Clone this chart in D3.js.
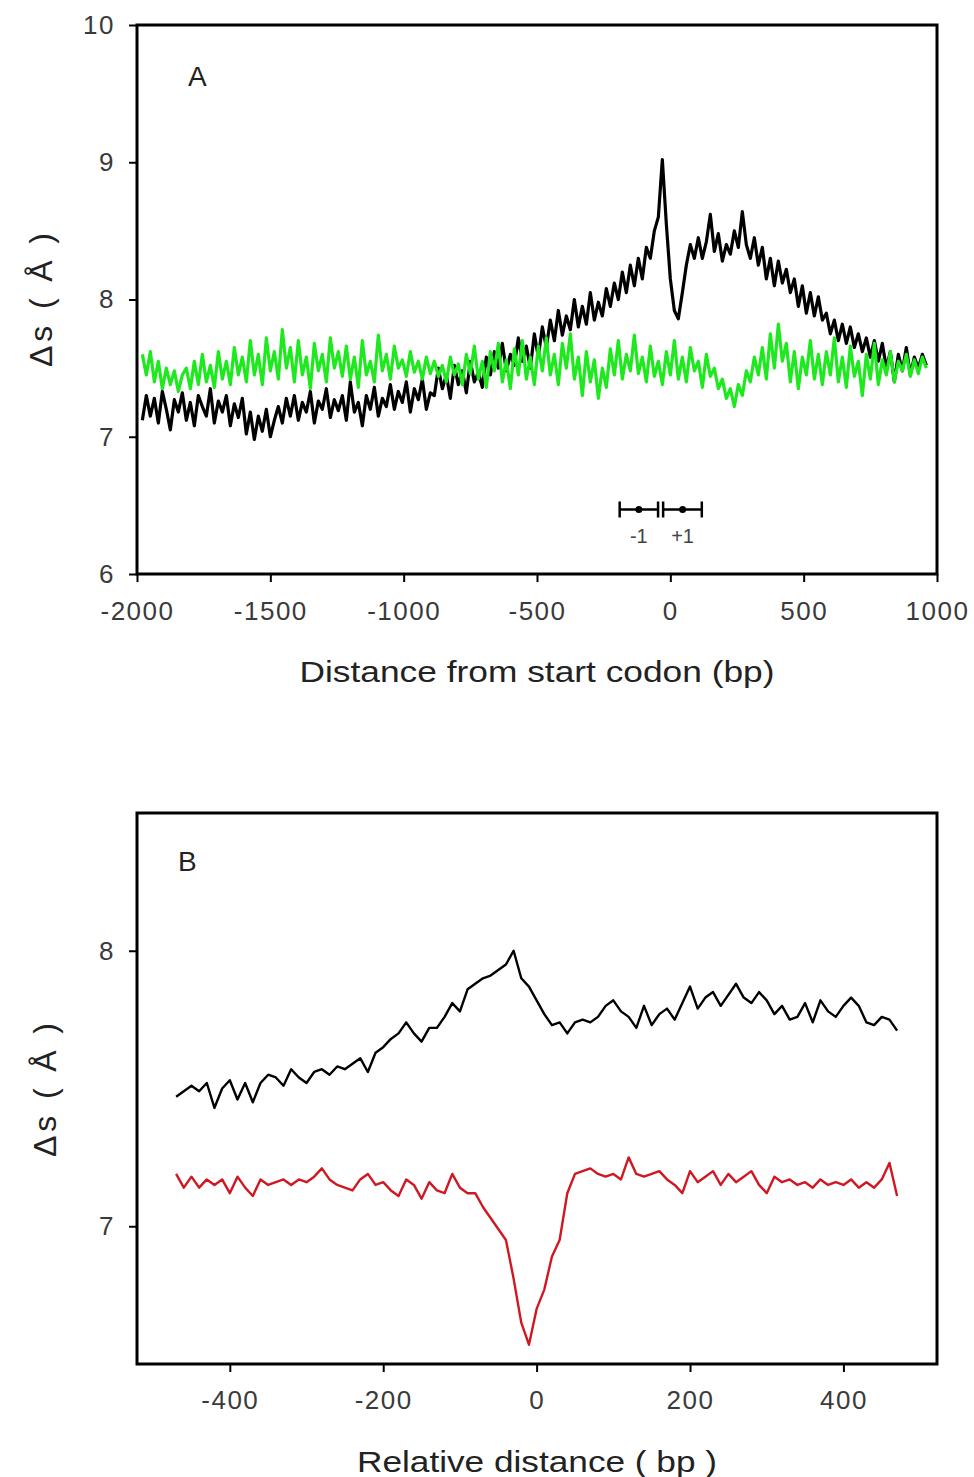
<!DOCTYPE html>
<html>
<head>
<meta charset="utf-8">
<script src="https://cdn.jsdelivr.net/npm/d3@7"></script>
<style>
  body { margin: 0; background: #fff; }
  svg text { font-family: Arial, "Liberation Sans", sans-serif; }
</style>
</head>
<body>
<div id="chart"></div>
<script>
// ---- Panel A: distance from start codon, one value every 15 bp ----
const posA = d3.range(-1980, 961, 15);
const blackA = [
  7.12, 7.30, 7.15, 7.28, 7.10, 7.33, 7.20, 7.05, 7.27, 7.18, 7.32, 7.12, 7.25, 7.08, 7.30, 7.22, 7.15, 7.35, 7.10, 7.26, 7.18, 7.30, 7.08, 7.24, 7.14, 7.28,
  7.02, 7.18, 6.98, 7.15, 7.04, 7.20, 7.00, 7.12,
  7.22, 7.10, 7.28, 7.15, 7.30, 7.12, 7.25, 7.18, 7.33, 7.10, 7.26, 7.20, 7.35, 7.14, 7.27, 7.19, 7.30,
  7.12, 7.40, 7.18, 7.25, 7.08, 7.30, 7.20, 7.36, 7.15, 7.28,
  7.22, 7.38, 7.20, 7.33, 7.25, 7.40, 7.18, 7.35, 7.27, 7.42, 7.20, 7.32,
  7.30, 7.50, 7.35, 7.45, 7.28, 7.52, 7.38, 7.48, 7.32, 7.55, 7.40, 7.47, 7.36, 7.58,
  7.45, 7.62, 7.50, 7.68, 7.48, 7.60, 7.52, 7.72, 7.55, 7.66, 7.50, 7.75, 7.58, 7.80,
  7.65, 7.85, 7.70, 7.92, 7.74, 7.88, 7.78, 8.00, 7.80, 7.95, 7.82, 8.05, 7.85, 7.98, 7.88, 8.08,
  7.95, 8.12, 8.00, 8.20, 8.05, 8.25, 8.10, 8.30, 8.15, 8.38,
  8.30, 8.50, 8.60, 9.02, 8.55, 8.15, 7.92,
  7.86,
  8.05, 8.25, 8.40, 8.30,
  8.45, 8.30, 8.42, 8.62, 8.35, 8.48, 8.28, 8.40, 8.33, 8.50, 8.38, 8.64, 8.40, 8.30, 8.45,
  8.25, 8.38, 8.15, 8.30, 8.10, 8.28, 8.12, 8.22, 8.05,
  8.15, 7.95, 8.10, 7.90, 8.05, 7.88, 8.02, 7.85,
  7.90, 7.75, 7.85, 7.70, 7.82, 7.68, 7.80, 7.65, 7.75, 7.62, 7.72, 7.58, 7.70,
  7.55, 7.68, 7.50, 7.62, 7.40, 7.60, 7.48, 7.65, 7.45, 7.58, 7.50, 7.60, 7.52
];
const greenA = [
  7.60, 7.45, 7.62, 7.40, 7.55, 7.35, 7.50, 7.38, 7.48, 7.33, 7.45,
  7.50, 7.35, 7.55, 7.38, 7.60, 7.40, 7.52, 7.36, 7.62, 7.42, 7.55, 7.38, 7.65, 7.45, 7.58,
  7.40, 7.70, 7.45, 7.60, 7.38, 7.72, 7.48, 7.62, 7.42, 7.78, 7.50, 7.65, 7.40, 7.70, 7.45, 7.58, 7.35, 7.68, 7.48, 7.60, 7.40, 7.72, 7.50, 7.62, 7.44,
  7.66, 7.42, 7.58, 7.36, 7.70, 7.45, 7.55, 7.40, 7.74, 7.48, 7.60, 7.42, 7.66, 7.50, 7.56, 7.44, 7.62, 7.47, 7.55, 7.42, 7.58, 7.46,
  7.55, 7.44, 7.52, 7.40, 7.58, 7.45, 7.53, 7.38, 7.60, 7.46, 7.66, 7.42, 7.55, 7.36, 7.62, 7.48, 7.68, 7.40, 7.56, 7.35, 7.64, 7.45, 7.70, 7.42, 7.58, 7.38, 7.66, 7.48,
  7.72, 7.45, 7.60, 7.38, 7.68, 7.50, 7.75, 7.42, 7.58, 7.30, 7.62, 7.40, 7.56, 7.28, 7.50, 7.36, 7.64, 7.45, 7.70, 7.42, 7.60, 7.48, 7.74, 7.46, 7.58, 7.40, 7.66, 7.44, 7.55, 7.38,
  7.62, 7.45, 7.70, 7.42, 7.58, 7.40, 7.65, 7.48, 7.55, 7.36, 7.60, 7.44, 7.50, 7.35, 7.42, 7.28, 7.35, 7.22, 7.38, 7.30,
  7.48, 7.40, 7.58, 7.45, 7.65, 7.42, 7.75, 7.50, 7.82, 7.55, 7.68, 7.40, 7.62, 7.35, 7.58, 7.45, 7.70, 7.42, 7.60, 7.38,
  7.62, 7.45, 7.72, 7.40, 7.58, 7.36, 7.66, 7.44, 7.55, 7.30, 7.60, 7.42, 7.68, 7.38, 7.56, 7.45, 7.62, 7.40, 7.55, 7.48, 7.60, 7.44, 7.56, 7.46, 7.58, 7.50
];
const ticksAX = [-2000, -1500, -1000, -500, 0, 500, 1000];
const ticksAY = [6, 7, 8, 9, 10];

// nucleosome -1 / +1 marks under the curves
const nucLabels = ["-1", "+1"];
const nucCenters = [-118, 46];
const nucStarts = [-190, -27];
const nucEnds = [-46, 118];
const nucLevel = 6.47;

// ---- Panel B: relative distance, one value every 10 bp ----
const posB = d3.range(-470, 471, 10);
const blackB = [
  7.47, 7.49, 7.51, 7.49, 7.52, 7.43, 7.50, 7.53, 7.46, 7.52, 7.45, 7.52, 7.55, 7.54, 7.51, 7.57,
  7.54, 7.52, 7.56, 7.57, 7.55, 7.58, 7.57, 7.59, 7.61, 7.56, 7.63, 7.65, 7.68, 7.70, 7.74, 7.70,
  7.67, 7.72, 7.72, 7.76, 7.81, 7.78, 7.86, 7.88, 7.90, 7.91, 7.93, 7.95, 8.00, 7.90, 7.87,
  7.82,
  7.77, 7.73, 7.74, 7.70, 7.74, 7.75, 7.74, 7.76, 7.80, 7.82, 7.78, 7.76, 7.72, 7.80, 7.73, 7.77,
  7.79, 7.75, 7.81, 7.87, 7.79, 7.83, 7.85, 7.80, 7.84, 7.88, 7.83, 7.81, 7.85, 7.82, 7.77, 7.80,
  7.75, 7.76, 7.81, 7.74, 7.82, 7.78, 7.76, 7.80, 7.83, 7.80, 7.74, 7.73, 7.76, 7.75, 7.71
];
const redB = [
  7.19, 7.14, 7.18, 7.14, 7.17, 7.15, 7.17, 7.12, 7.18, 7.14, 7.11, 7.17, 7.15, 7.16, 7.17, 7.15,
  7.17, 7.16, 7.18, 7.21, 7.17, 7.15, 7.14, 7.13, 7.17, 7.19, 7.15, 7.16, 7.13, 7.11, 7.17, 7.15,
  7.10, 7.16, 7.13, 7.12, 7.19, 7.14, 7.12, 7.12, 7.07, 7.03, 6.99, 6.95, 6.81, 6.65, 6.57,
  6.70,
  6.77, 6.89, 6.95, 7.12, 7.19, 7.20, 7.21, 7.19, 7.18, 7.19, 7.17, 7.25, 7.19, 7.18, 7.19, 7.20,
  7.17, 7.15, 7.12, 7.20, 7.16, 7.18, 7.20, 7.15, 7.19, 7.16, 7.18, 7.20, 7.15, 7.12, 7.18, 7.16,
  7.17, 7.15, 7.16, 7.14, 7.17, 7.15, 7.16, 7.15, 7.17, 7.14, 7.16, 7.14, 7.17, 7.23, 7.11
];
const ticksBX = [-400, -200, 0, 200, 400];
const ticksBY = [7, 8];

const svg = d3.select("#chart").append("svg")
    .attr("width", 974)
    .attr("height", 1477);

function drawPanel(p) {
    let g = svg.append("g");

    let x = d3.scaleLinear().domain(p.xDomain).range([137, 937]);
    let y = d3.scaleLinear().domain(p.yDomain).range([p.bottom, p.top]);

    // axes (ticks outside, only bottom and left)
    let xAxis = g.append("g")
        .attr("transform", `translate(0,${p.bottom})`)
        .call(d3.axisBottom(x).tickValues(p.xTicks).tickSize(8).tickPadding(p.xPad).tickFormat(d => String(d)));
    let yAxis = g.append("g")
        .attr("transform", "translate(137,0)")
        .call(d3.axisLeft(y).tickValues(p.yTicks).tickSize(8).tickPadding(14).tickFormat(d => String(d)));

    [xAxis, yAxis].forEach(a => {
        a.select(".domain").remove();
        a.selectAll(".tick line").attr("stroke", "#000").attr("stroke-width", 2);
        a.selectAll(".tick text")
            .attr("fill", "#3a3a3a")
            .style("font-size", "26px")
            .style("letter-spacing", "1.5px");
    });

    // series
    p.series.forEach(s => {
        let line = d3.line()
            .x((d, i) => x(s.pos[i]))
            .y(d => y(d));
        g.append("path")
            .datum(s.values)
            .attr("fill", "none")
            .attr("stroke", s.color)
            .attr("stroke-width", s.width)
            .attr("stroke-linejoin", "round")
            .attr("d", line);
    });

    // frame
    g.append("rect")
        .attr("x", 137).attr("y", p.top)
        .attr("width", 800).attr("height", p.bottom - p.top)
        .attr("fill", "none")
        .attr("stroke", "#000")
        .attr("stroke-width", 3);

    // panel letter
    g.append("text")
        .attr("x", p.letterX).attr("y", p.letterY)
        .attr("fill", "#222")
        .style("font-size", "28px")
        .text(p.letter);

    // axis titles
    g.append("text")
        .attr("x", 537).attr("y", p.xTitleY)
        .attr("text-anchor", "middle")
        .attr("fill", "#222")
        .style("font-size", "30px")
        .attr("textLength", p.xTitleLen)
        .attr("lengthAdjust", "spacingAndGlyphs")
        .text(p.xTitle);

    g.append("text")
        .attr("transform", `translate(${p.yTitleX},${p.yTitleY}) rotate(-90)`)
        .attr("text-anchor", "middle")
        .attr("fill", "#222")
        .style("font-size", "32px")
        .attr("textLength", 134)
        .attr("lengthAdjust", "spacing")
        .text("Δs ( Å )");

    return {g: g, x: x, y: y};
}

let panelA = drawPanel({
    xDomain: [-2000, 1000], yDomain: [6, 10],
    top: 25, bottom: 574,
    xTicks: ticksAX, yTicks: ticksAY, xPad: 20,
    series: [
        {pos: posA, values: blackA, color: "#000", width: 3.2},
        {pos: posA, values: greenA, color: "#1ee81e", width: 3.2}
    ],
    letter: "A", letterX: 188, letterY: 86,
    xTitle: "Distance from start codon (bp)", xTitleY: 682, xTitleLen: 475,
    yTitleX: 52, yTitleY: 300
});

// -1 / +1 nucleosome bars
let ny = panelA.y(nucLevel);
nucLabels.forEach((lab, i) => {
    let g = panelA.g.append("g");
    let x0 = panelA.x(nucStarts[i]), x1 = panelA.x(nucEnds[i]), xc = panelA.x(nucCenters[i]);
    g.append("line").attr("x1", x0).attr("x2", x1).attr("y1", ny).attr("y2", ny)
        .attr("stroke", "#000").attr("stroke-width", 2.5);
    [x0, x1].forEach(xx => {
        g.append("line").attr("x1", xx).attr("x2", xx).attr("y1", ny - 8).attr("y2", ny + 8)
            .attr("stroke", "#000").attr("stroke-width", 2.5);
    });
    g.append("circle").attr("cx", xc).attr("cy", ny).attr("r", 3.5).attr("fill", "#000");
    g.append("text")
        .attr("x", xc).attr("y", ny + 34)
        .attr("text-anchor", "middle")
        .attr("fill", "#444")
        .style("font-size", "20px")
        .text(lab);
});

let panelB = drawPanel({
    xDomain: [-521, 522], yDomain: [6.5, 8.5],
    top: 813, bottom: 1364,
    xTicks: ticksBX, yTicks: ticksBY, xPad: 19,
    series: [
        {pos: posB, values: blackB, color: "#000", width: 2.4},
        {pos: posB, values: redB, color: "#d01822", width: 2.4}
    ],
    letter: "B", letterX: 178, letterY: 871,
    xTitle: "Relative distance ( bp )", xTitleY: 1472, xTitleLen: 360,
    yTitleX: 56, yTitleY: 1090
});
</script>
</body>
</html>
